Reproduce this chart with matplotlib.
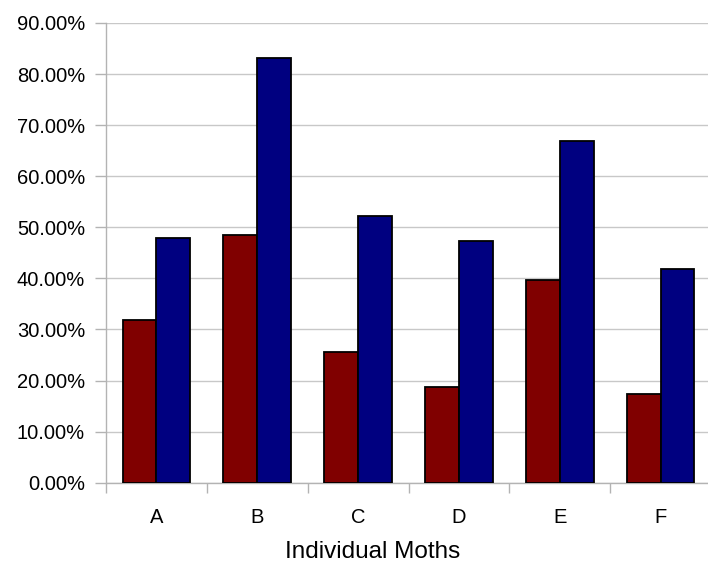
import matplotlib
matplotlib.use('Agg')
import matplotlib.pyplot as plt
import numpy as np
from matplotlib.ticker import FuncFormatter, MultipleLocator

# ------------------------------------------------------------------
## data: fraction per moth for the two series
moths = ['A', 'B', 'C', 'D', 'E', 'F']
series_red = [0.319, 0.484, 0.256, 0.187, 0.397, 0.174]
series_blue = [0.479, 0.832, 0.522, 0.473, 0.669, 0.418]

RED = '#800000'
BLUE = '#000080'
GRID = '#c8c8c8'
AXIS = '#b3b3b3'

plt.rcParams['font.family'] = ['Liberation Sans', 'DejaVu Sans']

# ------------------------------------------------------------------
## figure and axes (sizes in pixels, dpi 100)
fig = plt.figure(figsize=(7.08, 5.63), dpi=100)
W, H = 708, 563
ax = fig.add_axes([106 / W, (H - 482.7) / H, (711 - 106) / W, (482.7 - 23) / H])
px = 72 / 100  # one pixel in points

x = np.arange(len(moths))
width = 0.336
ax.bar(x - width / 2, series_red, width, color=RED, edgecolor='black', linewidth=1.3, zorder=3)
ax.bar(x + width / 2, series_blue, width, color=BLUE, edgecolor='black', linewidth=1.3, zorder=3)

# y axis: percent ticks every 10 %
ax.set_ylim(0, 0.9)
ax.yaxis.set_major_locator(MultipleLocator(0.1))
ax.yaxis.set_major_formatter(FuncFormatter(lambda v, p: f'{v * 100:.2f}%'))
ax.grid(axis='y', color=GRID, linewidth=1.0, zorder=0)
ax.tick_params(axis='y', length=11 * px, width=1.0, color=AXIS, pad=10 * px, labelsize=14.5)

# x axis: labels at centres, tick marks at category boundaries
ax.set_xlim(-0.5, len(moths) - 0.5)
ax.set_xticks(x)
ax.set_xticklabels(moths)
ax.tick_params(axis='x', which='major', length=0, pad=25 * px, labelsize=14.5)
ax.set_xticks(np.arange(-0.5, len(moths)), minor=True)
ax.tick_params(axis='x', which='minor', length=10 * px, width=1.0, color=AXIS)

for side in ['top', 'right']:
    ax.spines[side].set_visible(False)
for side in ['left', 'bottom']:
    ax.spines[side].set_color(AXIS)
    ax.spines[side].set_linewidth(1.0)

fig.text(373 / W, 1 - 552 / H, 'Individual Moths', ha='center', va='center', fontsize=17.5)

fig.savefig('out.png', dpi=100)
